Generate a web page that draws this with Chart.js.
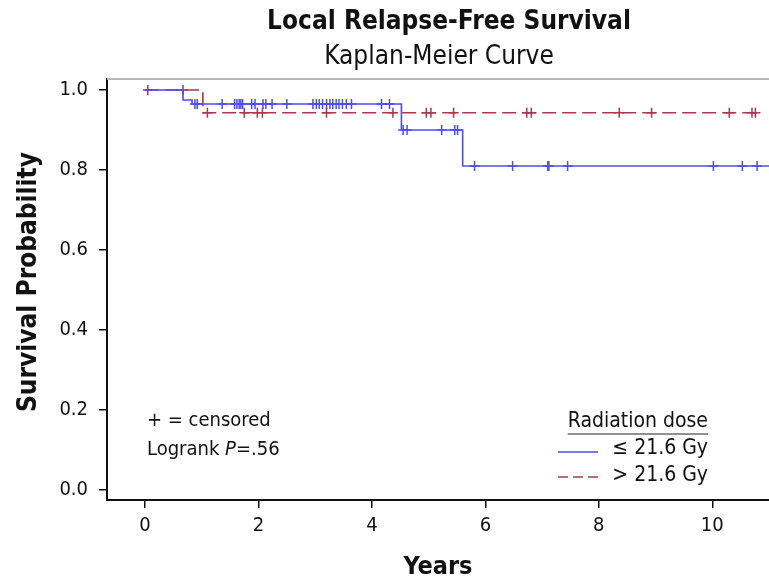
<!DOCTYPE html>
<html>
<head>
<meta charset="utf-8">
<script src="https://cdn.jsdelivr.net/npm/chart.js@4"></script>
<style>
  html, body { margin: 0; padding: 0; background: #fff; overflow: hidden; }
  #wrap { width: 769px; height: 587px; }
</style>
</head>
<body>
<div id="wrap"><canvas id="km" width="769" height="587"></canvas></div>
<script>
// KM step data (time in years, survival probability)
const lowTimes = [0, 0.67, 0.83, 4.52, 5.6, 11.0];
const lowSurv = [1.0, 0.975, 0.965, 0.90, 0.81, 0.81];
const highTimes = [0, 1.02, 10.83];
const highSurv = [1.0, 0.943, 0.943];

// censored observations
const lowCensored = [0.88, 0.92, 1.36, 1.58, 1.62, 1.66, 1.69, 1.72, 1.88, 1.94, 2.08, 2.13, 2.24, 2.50,
  2.96, 3.02, 3.07, 3.13, 3.20, 3.26, 3.31, 3.37, 3.42, 3.48, 3.55, 3.64, 4.17, 4.31,
  4.55, 4.62, 5.23, 5.46, 5.51, 5.81, 6.48, 7.10, 7.12, 7.45, 10.02, 10.53, 10.79];
const highCensored = [0.05, 0.67, 1.10, 1.75, 1.98, 2.07, 3.20, 4.37, 4.96, 5.04, 5.44,
  6.73, 6.81, 8.36, 8.93, 10.30, 10.70, 10.76];

const xTicks = [0, 2, 4, 6, 8, 10];
const yTicks = [0.0, 0.2, 0.4, 0.6, 0.8, 1.0];

const BLUE = "#4d4df2";
const RED = "#a8384d";
const FONT = "'DejaVu Sans Condensed', 'Liberation Sans Narrow', 'DejaVu Sans', sans-serif";

function survAt(times, surv, t) {
  let v = surv[0];
  for (let i = 0; i < times.length; i++) {
    if (times[i] <= t) v = surv[i];
  }
  return v;
}

const toPoints = (times, surv) => times.map((t, i) => ({ x: t, y: surv[i] }));
const censorPoints = (cens, times, surv) => cens.map((t) => ({ x: t, y: survAt(times, surv, t) }));

const textPlugin = {
  id: "kmText",
  afterDraw(chart) {
    const ctx = chart.ctx;
    const area = chart.chartArea;
    ctx.save();

    // top frame line
    ctx.strokeStyle = "#b8b8b8";
    ctx.lineWidth = 2;
    ctx.beginPath();
    ctx.moveTo(area.left, area.top);
    ctx.lineTo(area.right, area.top);
    ctx.stroke();

    ctx.fillStyle = "#111";
    ctx.textAlign = "center";
    ctx.textBaseline = "middle";
    ctx.font = "bold 26px " + FONT;
    ctx.fillText("Local Relapse-Free Survival", 449, 22);
    ctx.font = "26px " + FONT;
    ctx.fillText("Kaplan-Meier Curve", 439, 57);

    // y axis title, centred a bit above the plot middle like the original
    ctx.save();
    ctx.translate(29, 282);
    ctx.rotate(-Math.PI / 2);
    ctx.font = "bold 26px " + FONT;
    ctx.fillText("Survival Probability", 0, 0);
    ctx.restore();

    // annotation
    ctx.textAlign = "left";
    ctx.font = "20px " + FONT;
    ctx.fillText("+ = censored", 147, 421);
    const lbl = "Logrank ";
    ctx.fillText(lbl, 147, 450);
    let x = 147 + ctx.measureText(lbl).width;
    ctx.font = "italic 20px " + FONT;
    ctx.fillText("P", x, 450);
    x += ctx.measureText("P").width;
    ctx.font = "20px " + FONT;
    ctx.fillText("=.56", x, 450);

    // legend
    ctx.textAlign = "right";
    ctx.font = "21px " + FONT;
    ctx.fillText("Radiation dose", 708, 422);
    const w = ctx.measureText("Radiation dose").width;
    ctx.strokeStyle = "#222";
    ctx.lineWidth = 1.2;
    ctx.beginPath();
    ctx.moveTo(708 - w, 434);
    ctx.lineTo(708, 434);
    ctx.stroke();
    ctx.fillText("\u2264 21.6 Gy", 708, 449);
    ctx.fillText("> 21.6 Gy", 708, 476);

    ctx.lineWidth = 1.5;
    ctx.strokeStyle = BLUE;
    ctx.beginPath();
    ctx.moveTo(558, 452);
    ctx.lineTo(598, 452);
    ctx.stroke();
    ctx.strokeStyle = RED;
    ctx.setLineDash([10, 5]);
    ctx.beginPath();
    ctx.moveTo(558, 477);
    ctx.lineTo(600, 477);
    ctx.stroke();
    ctx.restore();
  }
};

new Chart(document.getElementById("km"), {
  type: "scatter",
  data: {
    datasets: [
      {
        label: "\u2264 21.6 Gy",
        data: toPoints(lowTimes, lowSurv),
        showLine: true,
        stepped: true,
        borderColor: BLUE,
        borderWidth: 1.6,
        pointRadius: 0
      },
      {
        label: "> 21.6 Gy",
        data: toPoints(highTimes, highSurv),
        showLine: true,
        stepped: true,
        borderColor: RED,
        borderWidth: 1.6,
        borderDash: [14, 6],
        pointRadius: 0
      },
      {
        label: "censored low",
        data: censorPoints(lowCensored, lowTimes, lowSurv),
        pointStyle: "cross",
        pointRadius: 5,
        borderColor: BLUE,
        borderWidth: 1.5
      },
      {
        label: "censored high",
        data: censorPoints(highCensored, highTimes, highSurv),
        pointStyle: "cross",
        pointRadius: 5,
        borderColor: RED,
        borderWidth: 1.5
      }
    ]
  },
  options: {
    responsive: false,
    animation: false,
    layout: { autoPadding: false, padding: { top: 79, right: 0, left: 0, bottom: 0 } },
    plugins: {
      legend: { display: false },
      tooltip: { enabled: false }
    },
    scales: {
      x: {
        type: "linear",
        min: -0.67,
        max: 11.0,
        afterBuildTicks: (scale) => { scale.ticks = xTicks.map((v) => ({ value: v })); },
        afterFit: (scale) => { scale.height = 87; scale.paddingLeft = 0; scale.paddingRight = 0; },
        border: { display: true, color: "#111", width: 2 },
        grid: { display: true, drawOnChartArea: false, drawTicks: true, tickLength: 8, color: "#111", lineWidth: 1.5 },
        ticks: { color: "#111", font: { family: FONT, size: 20 }, padding: 6 },
        title: { display: true, text: "Years", color: "#111", font: { family: FONT, size: 25, weight: "bold" }, padding: { top: 4, bottom: 5 } }
      },
      y: {
        type: "linear",
        min: -0.025,
        max: 1.0275,
        afterBuildTicks: (scale) => { scale.ticks = yTicks.map((v) => ({ value: v })); },
        afterFit: (scale) => { scale.width = 107; scale.paddingTop = 0; scale.paddingBottom = 0; },
        border: { display: true, color: "#111", width: 2 },
        grid: { display: true, drawOnChartArea: false, drawTicks: true, tickLength: 8, color: "#111", lineWidth: 1.5 },
        ticks: { color: "#111", font: { family: FONT, size: 20 }, padding: 11, callback: (v) => Number(v).toFixed(1) }
      }
    }
  },
  plugins: [textPlugin]
});
</script>
</body>
</html>
